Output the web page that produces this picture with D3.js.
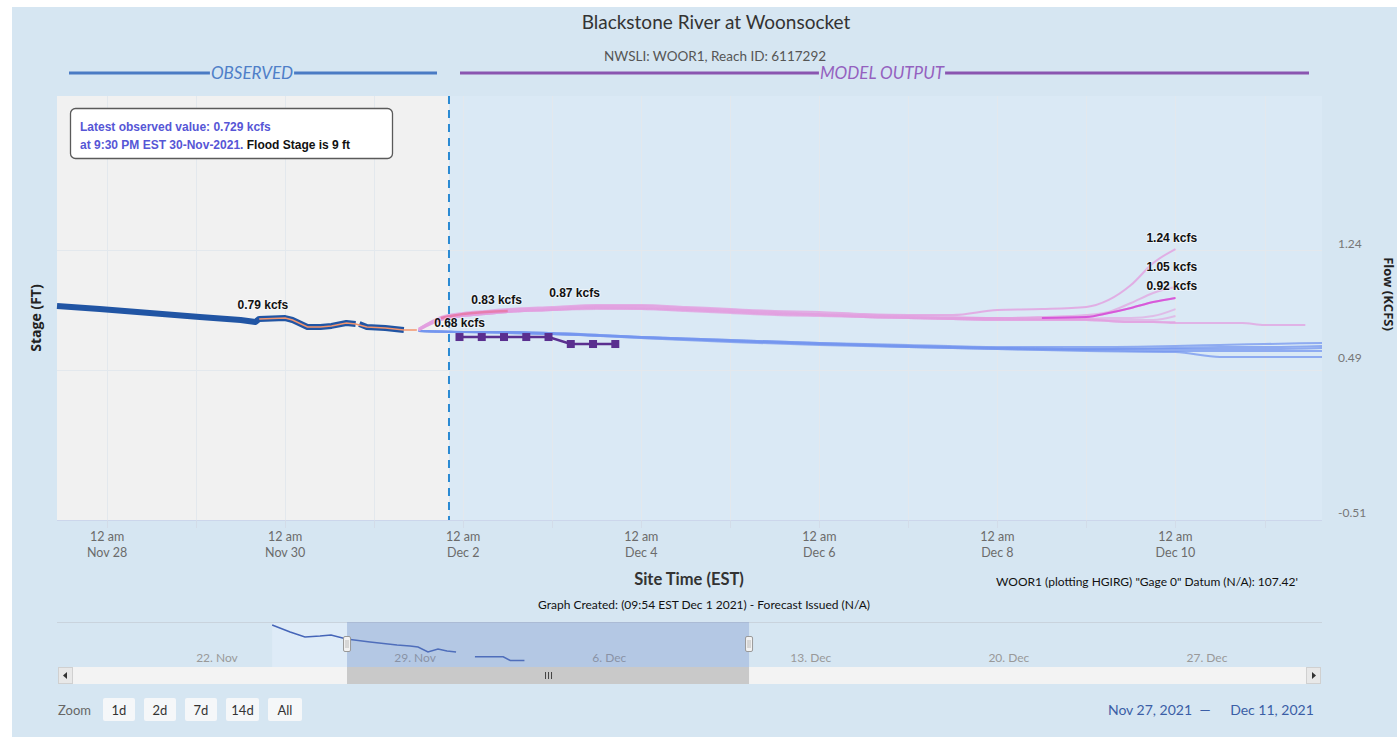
<!DOCTYPE html>
<html><head><meta charset="utf-8">
<script src="https://cdn.jsdelivr.net/npm/d3@7"></script>
<style>
html,body{margin:0;padding:0;background:#fff;overflow:hidden;}
svg{display:block;}
</style></head><body>
<svg id="c" width="1397" height="737"></svg>
<script>
// ---------------- DATA ----------------
const titleText = "Blackstone River at Woonsocket";
const subtitleText = "NWSLI: WOOR1, Reach ID: 6117292";
const xDomain = ["2021-11-27T10:30", "2021-12-11T15:30"];
const dividerTime = "2021-12-01T20:10";
const xTickDates = ["2021-11-28T00:00","2021-11-30T00:00","2021-12-02T00:00","2021-12-04T00:00","2021-12-06T00:00","2021-12-08T00:00","2021-12-10T00:00"];
const flowTicks = [-0.51, 0.49, 1.24];
const stageGrid = [4, 5];

const obsTimes = ["2021-11-27T10:30","2021-11-27T22:00","2021-11-28T11:30","2021-11-29T01:00","2021-11-29T12:00","2021-11-29T16:00","2021-11-29T17:00","2021-11-30T00:00","2021-11-30T02:00","2021-11-30T06:00","2021-11-30T09:30","2021-11-30T12:30","2021-11-30T16:30","2021-11-30T19:00","2021-11-30T19:30","2021-11-30T20:00","2021-11-30T22:00","2021-12-01T03:00","2021-12-01T08:00"];
const obsFlow  = [0.832,0.812,0.786,0.760,0.740,0.727,0.747,0.753,0.740,0.694,0.694,0.701,0.720,0.714,null,0.714,0.694,0.687,0.674];

const simTimes = ["2021-11-29T17:00","2021-11-30T00:00","2021-11-30T02:00","2021-11-30T06:00","2021-11-30T09:30","2021-11-30T12:30","2021-11-30T16:30","2021-11-30T19:00","2021-11-30T22:00","2021-12-01T03:00","2021-12-01T08:00","2021-12-01T11:30"];
const simFlow  = [0.747,0.753,0.740,0.694,0.694,0.701,0.720,0.714,0.694,0.687,0.674,0.674];

const pinkTimes = ["2021-12-01T12:00","2021-12-01T18:00","2021-12-02T00:00","2021-12-02T06:00","2021-12-02T12:00","2021-12-03T00:00","2021-12-03T12:00","2021-12-04T00:00","2021-12-04T12:00","2021-12-05T00:00","2021-12-05T12:00","2021-12-06T00:00","2021-12-06T12:00","2021-12-07T00:00","2021-12-07T12:00","2021-12-08T00:00","2021-12-08T12:00","2021-12-09T00:00","2021-12-09T06:00","2021-12-09T12:00","2021-12-09T18:00","2021-12-10T00:00","2021-12-10T12:00","2021-12-10T18:00","2021-12-11T00:00","2021-12-11T06:00","2021-12-11T11:00"];
const pinkA = [0.681,0.760,0.786,0.799,0.812,0.826,0.839,0.839,0.826,0.812,0.799,0.793,0.779,0.773,0.773,0.806,0.812,0.826,0.872,0.970,1.115,1.207];
const pinkB = [0.681,0.753,0.779,0.793,0.806,0.819,0.832,0.832,0.819,0.806,0.793,0.779,0.773,0.766,0.760,0.753,0.760,0.773,0.793,0.852,0.918,0.957];
const pinkC = [0.681,0.753,0.773,0.786,0.799,0.812,0.826,0.826,0.812,0.799,0.786,0.779,0.766,0.760,0.753,0.753,0.753,0.760,0.786,0.819,0.858,0.885];
const pinkD = [0.674,0.747,0.773,0.786,0.799,0.812,0.826,0.819,0.812,0.799,0.786,0.779,0.766,0.760,0.753,0.753,0.747,0.747,0.753,0.753,0.766,0.812];
const pinkE = [0.674,0.747,0.766,0.779,0.793,0.806,0.819,0.819,0.806,0.793,0.779,0.773,0.760,0.753,0.747,0.747,0.747,0.747,0.740,0.740,0.740,0.766];
const pinkF = [0.674,0.740,0.766,0.779,0.793,0.806,0.819,0.812,0.806,0.793,0.779,0.773,0.760,0.753,0.747,0.740,0.740,0.740,0.733,0.727,0.727,0.727];
const pinkG = [0.674,0.740,0.766,0.779,0.793,0.806,0.812,0.812,0.799,0.786,0.773,0.766,0.760,0.753,0.747,0.740,0.740,0.740,0.733,0.727,0.727,0.720,0.720,0.720,0.707,0.707,0.707];

const shortTimes = ["2021-12-01T18:00","2021-12-02T00:00","2021-12-02T06:00","2021-12-02T12:00"];
const shortFlow  = [0.753,0.779,0.793,0.799];

const blueTimes = ["2021-12-01T12:00","2021-12-02T00:00","2021-12-02T12:00","2021-12-03T00:00","2021-12-04T00:00","2021-12-05T00:00","2021-12-06T00:00","2021-12-07T00:00","2021-12-08T00:00","2021-12-09T00:00","2021-12-10T00:00","2021-12-10T12:00","2021-12-11T00:00","2021-12-11T15:30"];
const blue1 = [0.668,0.661,0.661,0.654,0.628,0.608,0.589,0.576,0.562,0.562,0.569,0.576,0.582,0.589];
const blue2 = [0.668,0.661,0.661,0.648,0.628,0.602,0.582,0.569,0.556,0.549,0.556,0.562,0.562,0.569];
const blue3 = [0.668,0.661,0.654,0.648,0.622,0.602,0.582,0.562,0.549,0.543,0.536,0.536,0.536,0.536];
const blue4 = [0.668,0.661,0.654,0.648,0.622,0.595,0.576,0.562,0.549,0.536,0.529,0.497,0.497,0.497];
const blue5 = [0.668,0.661,0.661,0.654,0.628,0.608,0.589,0.569,0.556,0.549,0.549,0.549,0.549,0.556];

const sqTimes = ["2021-12-01T23:00","2021-12-02T05:00","2021-12-02T11:00","2021-12-02T17:00","2021-12-02T23:00","2021-12-03T05:00","2021-12-03T11:00","2021-12-03T17:00"];
const sqFlow  = [0.628,0.628,0.628,0.628,0.628,0.582,0.582,0.582];

const labelTexts = ["0.79 kcfs","0.83 kcfs","0.87 kcfs","0.68 kcfs","1.24 kcfs","1.05 kcfs","0.92 kcfs"];
const labelTimes = ["2021-11-29T18:00","2021-12-02T09:00","2021-12-03T06:00","2021-12-01T23:00","2021-12-09T23:00","2021-12-09T23:00","2021-12-09T23:00"];
const labelFlows = [0.747,0.779,0.826,0.628,1.187,0.997,0.872];

const navDomain = ["2021-11-17T04:30","2021-12-31T21:30"];
const navObsTimes = ["2021-11-24T19:00","2021-11-25T10:15","2021-11-25T22:50","2021-11-26T11:35","2021-11-26T20:55","2021-11-27T10:00","2021-11-28T06:00","2021-11-29T04:55","2021-11-29T15:55","2021-11-29T22:45","2021-11-30T07:10","2021-11-30T15:40","2021-11-30T23:20","2021-12-01T07:00"];
const navObsFlow  = [1.015,0.930,0.869,0.881,0.893,0.844,0.808,0.771,0.759,0.747,0.686,0.722,0.698,0.686];

const zoomButtons = ["1d","2d","7d","14d","All"];

// ---------------- SETUP ----------------
const parse = d3.timeParse("%Y-%m-%dT%H:%M");
const W = 1397, H = 737;
const M = {left:57, right:1322, top:96, bottom:520};
const FM = "Lato, 'Open Sans', sans-serif";
const FA = "'Liberation Sans', Arial, sans-serif";
const svg = d3.select("#c");

const ser = (times, vals) => vals.map((v,i)=>({t:parse(times[i]), v:v}));

const x = d3.scaleTime().domain(xDomain.map(parse)).range([M.left, M.right]);
const y = d3.scaleLinear().domain(flowTicks).range([513, 358, 244]);
const yStage = d3.scaleLinear().domain([3, 6]).range([490, 130]);
const line = d3.line().defined(d=>d.v!=null).x(d=>x(d.t)).y(d=>y(d.v));

// page background
svg.append("rect").attr("x",12).attr("y",7).attr("width",W-12).attr("height",H-7).attr("fill","#d6e6f2");

// plot backgrounds
const xDiv = x(parse(dividerTime));
svg.append("rect").attr("x",M.left).attr("y",M.top).attr("width",M.right-M.left).attr("height",M.bottom-M.top).attr("fill","#dae9f5");
svg.append("rect").attr("x",M.left).attr("y",M.top).attr("width",xDiv-M.left).attr("height",M.bottom-M.top).attr("fill","#f1f1f1");

// grid
const days = x.ticks(d3.timeDay.every(1));
svg.append("g").selectAll("line").data(days).join("line")
  .attr("x1",d=>Math.round(x(d))+0.5).attr("x2",d=>Math.round(x(d))+0.5)
  .attr("y1",M.top).attr("y2",M.bottom).attr("stroke","#e3e8ed").attr("stroke-width",1);
svg.append("g").selectAll("line").data(stageGrid).join("line")
  .attr("x1",M.left).attr("x2",M.right).attr("y1",d=>yStage(d)+0.5).attr("y2",d=>yStage(d)+0.5)
  .attr("stroke","#e3e8ed").attr("stroke-width",1);

// x axis line & ticks
svg.append("line").attr("x1",M.left).attr("x2",M.right).attr("y1",M.bottom+0.5).attr("y2",M.bottom+0.5).attr("stroke","#ccd6eb");
svg.append("g").selectAll("line").data(days).join("line")
  .attr("x1",d=>Math.round(x(d))+0.5).attr("x2",d=>Math.round(x(d))+0.5)
  .attr("y1",M.bottom).attr("y2",M.bottom+8).attr("stroke","#d3dce8");

const xt = svg.append("g").selectAll("g").data(xTickDates.map(parse)).join("g")
  .attr("transform",d=>`translate(${x(d)},0)`);
xt.append("text").attr("y",541).attr("text-anchor","middle").attr("font-family",FM).attr("font-size",12.5).attr("fill","#6b6b6b").text("12 am");
xt.append("text").attr("y",557).attr("text-anchor","middle").attr("font-family",FM).attr("font-size",12.5).attr("fill","#6b6b6b").text(d=>d3.timeFormat("%b %-d")(d));

// right axis labels
svg.append("g").selectAll("text").data(flowTicks).join("text")
  .attr("x",1338).attr("y",d=>y(d)+4).attr("font-family",FM).attr("font-size",12).attr("fill","#777")
  .text(d=>d.toFixed(2));

// ---------------- SERIES ----------------
const gS = svg.append("g");
// observed thick
gS.append("path").datum(ser(obsTimes,obsFlow)).attr("d",line).attr("fill","none")
  .attr("stroke","#2155a4").attr("stroke-width",6).attr("stroke-linejoin","round");
// simulation thin orange
gS.append("path").datum(ser(simTimes,simFlow)).attr("d",line).attr("fill","none")
  .attr("stroke","#f3956e").attr("stroke-width",1.6);

// blue ensemble
const lineB = d3.line().x(d=>x(d.t)).y(d=>y(d.v)).curve(d3.curveMonotoneX);
[blue1,blue2,blue3,blue4,blue5].forEach(arr=>{
  gS.append("path").datum(ser(blueTimes,arr)).attr("d",lineB).attr("fill","none")
    .attr("stroke","#7496ef").attr("stroke-width",2).attr("stroke-opacity",0.75);
});
// pink ensemble
const lineP = d3.line().defined(d=>d.v!=null).x(d=>x(d.t)).y(d=>y(d.v)).curve(d3.curveMonotoneX);
const pinkSets = [pinkG,pinkF,pinkE,pinkD,pinkB,pinkA,pinkC];
const pinkOp   = [0.75,0.6,0.6,0.6,0.7,0.8,0.7];
pinkSets.forEach((arr,i)=>{
  gS.append("path").datum(ser(pinkTimes,arr)).attr("d",lineP).attr("fill","none")
    .attr("stroke","#e29fe0").attr("stroke-width",2).attr("stroke-opacity",pinkOp[i]);
});
// highlighted member tail (bright magenta)
gS.append("path").datum(ser(pinkTimes,pinkC).slice(16)).attr("d",lineP).attr("fill","none")
  .attr("stroke","#d64fd8").attr("stroke-width",2).attr("stroke-opacity",0.9);
gS.append("path").datum(ser(shortTimes,shortFlow)).attr("d",lineP).attr("fill","none")
  .attr("stroke","#e8709c").attr("stroke-width",2.5).attr("stroke-opacity",0.75);

// purple squares
const sq = ser(sqTimes,sqFlow);
gS.append("path").datum(sq).attr("d",line).attr("fill","none").attr("stroke","#5a2f8f").attr("stroke-width",2.5);
gS.selectAll("rect.sq").data(sq).join("rect").attr("class","sq")
  .attr("x",d=>x(d.t)-4).attr("y",d=>y(d.v)-4).attr("width",8).attr("height",8).attr("fill","#5a2f8f");

// divider
svg.append("line").attr("x1",xDiv).attr("x2",xDiv).attr("y1",M.top).attr("y2",M.bottom)
  .attr("stroke","#2a8ad3").attr("stroke-width",2).attr("stroke-dasharray","8,6");

// data labels
svg.append("g").selectAll("text").data(labelTexts).join("text")
  .attr("x",(d,i)=>x(parse(labelTimes[i]))).attr("y",(d,i)=>y(labelFlows[i])-10)
  .attr("text-anchor","middle").attr("font-family",FA).attr("font-weight","bold").attr("font-size",12)
  .attr("fill","#111").attr("stroke","#fff").attr("stroke-width",2).attr("stroke-opacity",0.45)
  .attr("paint-order","stroke").text(d=>d);

// annotation box
svg.append("rect").attr("x",70.5).attr("y",108.5).attr("width",322).attr("height",50).attr("rx",5)
  .attr("fill","#fff").attr("stroke","#5a5a5a").attr("stroke-width",1.3);
svg.append("text").attr("x",80).attr("y",131).attr("font-family",FA).attr("font-weight","bold").attr("font-size",12)
  .attr("fill","#5656d6").text("Latest observed value: 0.729 kcfs");
const t2 = svg.append("text").attr("x",80).attr("y",149).attr("font-family",FA).attr("font-weight","bold").attr("font-size",12);
t2.append("tspan").attr("fill","#5656d6").text("at 9:30 PM EST 30-Nov-2021.");
t2.append("tspan").attr("fill","#111").text(" Flood Stage is 9 ft");

// header bands
function band(x0, x1, cx, label, col, tcol){
  const t = svg.append("text").attr("x",cx).attr("y",79).attr("text-anchor","middle")
    .attr("font-family",FM).attr("font-style","italic").attr("font-size",17).attr("fill",tcol).text(label);
  const w = t.node().getComputedTextLength();
  svg.append("line").attr("x1",x0).attr("x2",cx-w/2-1).attr("y1",73).attr("y2",73).attr("stroke",col).attr("stroke-width",3);
  svg.append("line").attr("x1",cx+w/2+1).attr("x2",x1).attr("y1",73).attr("y2",73).attr("stroke",col).attr("stroke-width",3);
}
band(69, 437, 252, "OBSERVED", "#4a7bc4", "#4f7fc8");
band(460, 1309, 882, "MODEL OUTPUT", "#8a55b0", "#9461bf");

// titles
svg.append("text").attr("x",716).attr("y",29).attr("text-anchor","middle").attr("font-family",FM)
  .attr("font-size",19).attr("fill","#333").text(titleText);
svg.append("text").attr("x",715).attr("y",61).attr("text-anchor","middle").attr("font-family",FM)
  .attr("font-size",13.5).attr("fill","#555").text(subtitleText);

// axis titles
svg.append("text").attr("transform","translate(41,318) rotate(-90)").attr("text-anchor","middle")
  .attr("font-family","'Open Sans', sans-serif").attr("font-weight","bold").attr("font-size",14).attr("fill","#222").text("Stage (FT)");
svg.append("text").attr("transform","translate(1384,294) rotate(90)").attr("text-anchor","middle")
  .attr("font-family","'Open Sans', sans-serif").attr("font-weight","bold").attr("font-size",13).attr("fill","#222").text("Flow (KCFS)");
svg.append("text").attr("x",689).attr("y",585).attr("text-anchor","middle").attr("font-family",FM)
  .attr("font-weight","bold").attr("font-size",16.5).attr("fill","#333").text("Site Time (EST)");
svg.append("text").attr("x",1147).attr("y",586).attr("text-anchor","middle").attr("font-family",FM)
  .attr("font-size",12).attr("fill","#111").text("WOOR1 (plotting HGIRG) \"Gage 0\" Datum (N/A): 107.42'");
svg.append("text").attr("x",704).attr("y",609).attr("text-anchor","middle").attr("font-family",FM)
  .attr("font-size",12).attr("fill","#111").text("Graph Created: (09:54 EST Dec 1 2021) - Forecast Issued (N/A)");

// ---------------- NAVIGATOR ----------------
const navX = d3.scaleTime().domain(navDomain.map(parse)).range([M.left, M.right]);
const navY = d3.scaleLinear().domain([0.503, 1.052]).range([667, 622]);
const nObs = ser(navObsTimes, navObsFlow);
const mx0 = navX(x.domain()[0]), mx1 = navX(x.domain()[1]);
const x0n = navX(nObs[0].t);
svg.append("rect").attr("x",x0n).attr("y",622).attr("width",mx0-x0n).attr("height",45).attr("fill","#deebf7");
svg.append("line").attr("x1",M.left).attr("x2",M.right).attr("y1",622.5).attr("y2",622.5).attr("stroke","#c9d3dd");
const navLine = d3.line().x(d=>navX(d.t)).y(d=>navY(d.v));
svg.append("path").datum(nObs).attr("d",navLine).attr("fill","none").attr("stroke","#4565b8").attr("stroke-width",1.5);
svg.append("path").datum(sq).attr("d",navLine).attr("fill","none").attr("stroke","#4565b8").attr("stroke-width",1.5);
navX.ticks(d3.timeMonday.every(1)).forEach(d=>{
  svg.append("text").attr("x",navX(d)+3).attr("y",662).attr("font-family",FM).attr("font-size",12)
    .attr("fill","#999").text(d3.timeFormat("%-d. %b")(d));
});
svg.append("rect").attr("x",mx0).attr("y",622).attr("width",mx1-mx0).attr("height",45).attr("fill","rgba(102,133,194,0.3)");
[mx0,mx1].forEach(hx=>{
  svg.append("rect").attr("x",hx-3.5).attr("y",636.5).attr("width",7).attr("height",15).attr("rx",1.5)
    .attr("fill","#f2f2f2").attr("stroke","#999");
  svg.append("line").attr("x1",hx-1).attr("x2",hx-1).attr("y1",640).attr("y2",648).attr("stroke","#bbb");
  svg.append("line").attr("x1",hx+1).attr("x2",hx+1).attr("y1",640).attr("y2",648).attr("stroke","#bbb");
});

// scrollbar
svg.append("rect").attr("x",58).attr("y",667).attr("width",1263).attr("height",17).attr("fill","#f3f3f3");
svg.append("rect").attr("x",mx0).attr("y",667).attr("width",mx1-mx0).attr("height",17).attr("fill","#c9c9c9");
[-3,0,3].forEach(o=>svg.append("line").attr("x1",(mx0+mx1)/2+o+0.5).attr("x2",(mx0+mx1)/2+o+0.5)
  .attr("y1",672).attr("y2",679).attr("stroke","#444"));
svg.append("rect").attr("x",58.5).attr("y",667.5).attr("width",14).attr("height",16).attr("fill","#e8e8e8").attr("stroke","#d0d0d0");
svg.append("path").attr("d","M67,672 L63,675.5 L67,679 Z").attr("fill","#333");
svg.append("rect").attr("x",1306.5).attr("y",667.5).attr("width",14).attr("height",16).attr("fill","#e8e8e8").attr("stroke","#d0d0d0");
svg.append("path").attr("d","M1312,672 L1316,675.5 L1312,679 Z").attr("fill","#333");

// range selector
svg.append("text").attr("x",58).attr("y",715).attr("font-family",FM).attr("font-size",13).attr("fill","#666").text("Zoom");
const bx = [103,144,185,226,268], bw = [32,32,32,33,34];
zoomButtons.forEach((b,i)=>{
  svg.append("rect").attr("x",bx[i]).attr("y",698).attr("width",bw[i]).attr("height",23).attr("rx",2).attr("fill","#f5f7f9");
  svg.append("text").attr("x",bx[i]+bw[i]/2).attr("y",715).attr("text-anchor","middle").attr("font-family",FM)
    .attr("font-size",13).attr("fill","#333").text(b);
});
const fmtD = d3.timeFormat("%b %-d, %Y");
svg.append("text").attr("x",1150).attr("y",715).attr("text-anchor","middle").attr("font-family",FM).attr("font-size",14).attr("fill","#3b5ea6").text(fmtD(x.domain()[0]));
svg.append("text").attr("x",1205).attr("y",715).attr("text-anchor","middle").attr("font-family",FM).attr("font-size",14).attr("fill","#3b5ea6").text("\u2014");
svg.append("text").attr("x",1272).attr("y",715).attr("text-anchor","middle").attr("font-family",FM).attr("font-size",14).attr("fill","#3b5ea6").text(fmtD(x.domain()[1]));
</script>
</body></html>
